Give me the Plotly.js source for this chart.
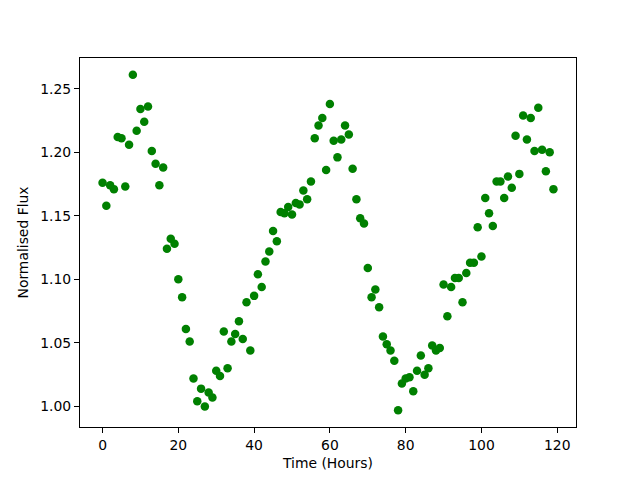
<!DOCTYPE html>
<html>
<head>
<meta charset="utf-8">
<script src="https://cdn.plot.ly/plotly-3.0.1.min.js"></script>
<style>html,body{margin:0;padding:0;background:#fff;}#chart{width:640px;height:480px;}</style>
</head>
<body>
<div id="chart"></div>
<script>
const hours = Array.from({length: 120}, (_, i) => i);
const flux = [
1.176,1.158,1.174,1.171,1.212,1.211,1.173,1.206,1.261,1.217,
1.234,1.224,1.236,1.201,1.191,1.174,1.188,1.124,1.132,1.128,
1.100,1.086,1.061,1.051,1.022,1.004,1.014,1.000,1.011,1.007,
1.028,1.024,1.059,1.030,1.051,1.057,1.067,1.053,1.082,1.044,
1.087,1.104,1.094,1.114,1.122,1.138,1.130,1.153,1.152,1.157,
1.151,1.160,1.159,1.170,1.163,1.177,1.211,1.221,1.227,1.186,
1.238,1.209,1.196,1.210,1.221,1.214,1.187,1.163,1.148,1.144,
1.109,1.086,1.092,1.078,1.055,1.049,1.044,1.036,0.997,1.018,
1.022,1.023,1.012,1.028,1.040,1.025,1.030,1.048,1.044,1.046,
1.096,1.071,1.094,1.101,1.101,1.082,1.105,1.113,1.113,1.141,
1.118,1.164,1.152,1.142,1.177,1.177,1.164,1.181,1.172,1.213,
1.183,1.229,1.210,1.227,1.201,1.235,1.202,1.185,1.200,1.171
];
const xTicks = [0,20,40,60,80,100,120];
const yTicks = [1.00,1.05,1.10,1.15,1.20,1.25];

const font = {family: 'DejaVu Sans, sans-serif', size: 13.9, color: '#000'};
const axisCommon = {
  showgrid: false, zeroline: false, showline: true, linecolor: '#000', linewidth: 1.1,
  mirror: true, ticks: 'outside', ticklen: 5, tickwidth: 1.1, tickcolor: '#000',
  tickfont: font
};
Plotly.newPlot('chart', [{
  x: hours, y: flux, type: 'scatter', mode: 'markers',
  marker: {color: '#008000', size: 8.5}
}], {
  width: 640, height: 480,
  margin: {l: 80, r: 64, t: 58, b: 53},
  paper_bgcolor: '#fff', plot_bgcolor: '#fff',
  showlegend: false,
  font: font,
  xaxis: Object.assign({}, axisCommon, {
    range: [-5.95, 124.95], tickvals: xTicks, ticktext: xTicks.map(String),
    title: {text: 'Time (Hours)', font: font, standoff: 6}
  }),
  yaxis: Object.assign({}, axisCommon, {
    range: [0.9838, 1.2742], tickvals: yTicks, ticktext: yTicks.map(v => v.toFixed(2)),
    title: {text: 'Normalised Flux', font: font, standoff: 8}
  })
}, {displayModeBar: false, staticPlot: true});
</script>
</body>
</html>
